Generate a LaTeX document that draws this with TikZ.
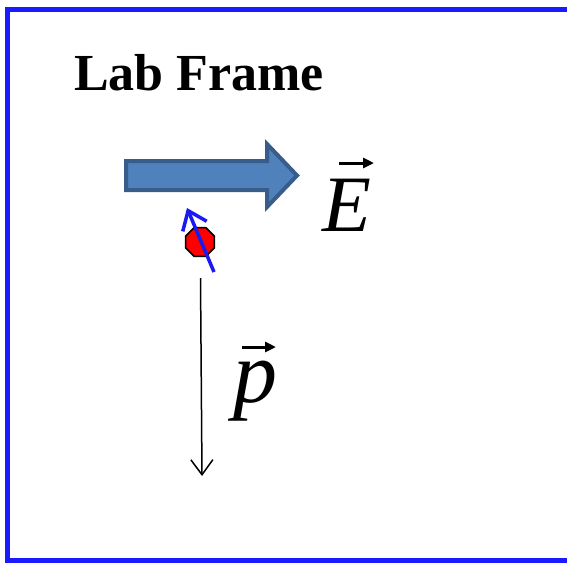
\documentclass[tikz,border=0pt]{standalone}
\usepackage{fontspec}
\setmainfont{Liberation Serif}
\usetikzlibrary{arrows.meta,shapes.geometric,calc}
\definecolor{framecol}{HTML}{1A1AFF}
\definecolor{arrfill}{HTML}{4F81BD}
\definecolor{arrdraw}{HTML}{385D8A}
\definecolor{spincol}{HTML}{1A1AF0}
\tikzset{
  frameline/.style={draw=framecol,line width=5pt},
  bigarrow/.style={fill=arrfill,draw=arrdraw,line width=4pt,line join=miter},
  particle/.style={regular polygon,regular polygon sides=8,minimum size=31pt,inner sep=0pt,fill=red,draw=black,line width=1.5pt},
  spinarrow/.style={draw=spincol,line width=3.5pt,-{Straight Barb[length=17pt,width=26pt,line width=3.5pt]}},
  momarrow/.style={draw=black,line width=1.5pt,-{Straight Barb[length=15pt,width=22pt,line width=1.5pt]}},
  vecarrow/.style={draw=black,line width=3pt,-{Triangle[length=11pt,width=10pt]}},
  symtext/.style={inner sep=0pt,font=\fontsize{80}{90}\selectfont\itshape},
}
\begin{document}
\begin{tikzpicture}[x=1pt,y=-1pt]
\useasboundingbox (0,0) rectangle (567,563);
% frame
\draw[frameline] (570,9) -- (7.5,9) -- (7.5,560) -- (570,560);
% title
\node[anchor=base west,inner sep=0pt,font=\fontsize{52}{60}\selectfont\bfseries] (title) at (74,90) {Lab Frame};
% field arrow
\draw[bigarrow] (126,161) -- (267,161) -- (267,144) -- (297,175.5) -- (267,207) -- (267,190) -- (126,190) -- cycle;
% E label
\node[symtext,anchor=base west] (E) at (322,231) {E};
\draw[vecarrow] ($(E.base west)+(17,-68)$) -- ($(E.base west)+(52,-68)$);
% particle
\node[particle] (part) at (200,242) {};
\coordinate (spinstart) at (214,272);
\coordinate (spinend) at (187,208);
\draw[spinarrow] (spinstart) -- (spinend);
% momentum arrow
\coordinate (pstart) at (200.5,278);
\coordinate (pend) at (202,476);
\draw[momarrow] (pstart) -- (pend);
% p label
\node[symtext,anchor=base west,font=\fontsize{88}{96}\selectfont\itshape] (p) at (233,402) {p};
\draw[vecarrow] ($(p.base west)+(9,-55)$) -- ($(p.base west)+(43,-55)$);
\end{tikzpicture}
\end{document}
